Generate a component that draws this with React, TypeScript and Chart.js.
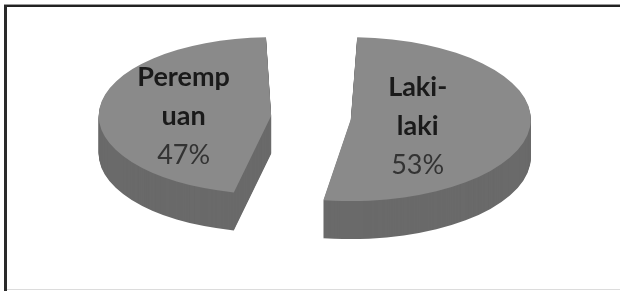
import React, { useEffect, useRef } from "react";
import { Chart, registerables } from "chart.js";
Chart.register(...registerables);

const categories = ["Laki-laki", "Perempuan"];
const labelLines = [["Laki-", "laki"], ["Peremp", "uan"]];
const values = [53, 47];
const percentLabels = ["53%", "47%"];

export default function App() {
  const ref = useRef<HTMLCanvasElement>(null);
  useEffect(() => {
    document.body.style.margin = "0";
    const TILT = 0.455;
    const DEPTH = 38;
    const SEP = 40;
    const R = 140;
    const topColor = "#8a8a8a";
    const sideColor = "#6a6a6a";
    const total = values.reduce((a, b) => a + b, 0);
    const fixes = values.map((v) => {
      const circ = (v / total) * Math.PI * 2;
      return 1 - Math.sin(Math.min(Math.PI, circ));
    });

    const tilt = {
      id: "tilt3d",
      beforeDatasetsDraw(chart: any) {
        const ctx = chart.ctx;
        const meta = chart.getDatasetMeta(0);
        const cx = meta.data[0].x;
        const cy = meta.data[0].y;
        ctx.save();
        ctx.translate(cx, cy);
        ctx.scale(1, TILT);
        ctx.translate(-cx, -cy);
        for (let d = DEPTH; d >= 1; d--) {
          ctx.save();
          ctx.translate(0, d / TILT);
          meta.data.forEach((el: any) => {
            const orig = el.options;
            el.options = { ...orig, backgroundColor: sideColor, borderWidth: 0 };
            el.draw(ctx);
            el.options = orig;
          });
          ctx.restore();
        }
      },
      afterDatasetsDraw(chart: any) {
        const ctx = chart.ctx;
        ctx.restore();
        const meta = chart.getDatasetMeta(0);
        meta.data.forEach((el: any, i: number) => {
          const half = (el.startAngle + el.endAngle) / 2;
          const rAct = el.outerRadius + SEP * fixes[i];
          const f = 0.44;
          const x = el.x + Math.cos(half) * (SEP + rAct * f) - 12;
          const y = el.y + Math.sin(half) * (SEP + rAct * f) * TILT + 12;
          const lines = [...labelLines[i], percentLabels[i]];
          ctx.save();
          ctx.textAlign = "center";
          ctx.textBaseline = "alphabetic";
          lines.forEach((t, j) => {
            const isPct = j === lines.length - 1;
            ctx.font = isPct ? "27px Lato" : "bold 27px Lato";
            ctx.fillStyle = isPct ? "#333333" : "#1a1a1a";
            ctx.fillText(t, x, y + (j - 1) * 39);
          });
          ctx.restore();
        });
      },
    };

    const chart = new Chart(ref.current!, {
      type: "pie",
      data: {
        labels: categories,
        datasets: [
          {
            data: values,
            backgroundColor: topColor,
            borderWidth: 0,
            offset: 4 * SEP,
            clip: false,
          } as any,
        ],
      },
      options: {
        responsive: false,
        animation: false,
        radius: R,
        layout: { padding: { left: 2, right: 0, top: 0, bottom: 56 } },
        plugins: { legend: { display: false }, tooltip: { enabled: false } },
        events: [],
      } as any,
      plugins: [tilt],
    });
    return () => chart.destroy();
  }, []);

  return (
    <div style={{ position: "relative", width: 620, height: 291, background: "#fff", overflow: "hidden" }}>
      <canvas ref={ref} width={620} height={291} style={{ display: "block" }} />
      <div style={{ position: "absolute", left: 4, top: 4, width: 616, height: 1, background: "#9a9a9a" }} />
      <div style={{ position: "absolute", left: 4, top: 5, width: 616, height: 2, background: "#222" }} />
      <div style={{ position: "absolute", left: 4, top: 5, width: 3, height: 286, background: "#2a2a2a" }} />
      <div style={{ position: "absolute", left: 7, top: 289, width: 613, height: 1, background: "#dcdcdc" }} />
    </div>
  );
}
